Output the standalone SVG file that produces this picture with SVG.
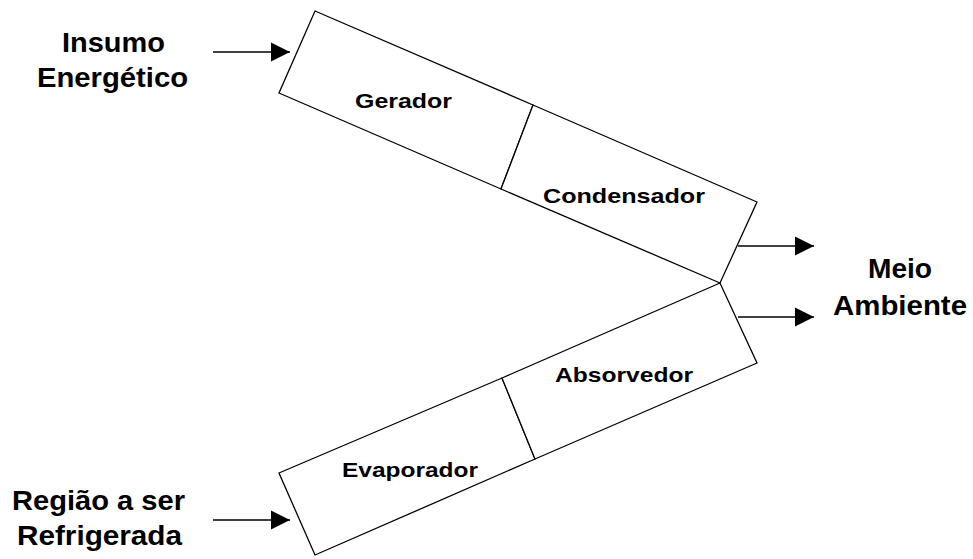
<svg xmlns="http://www.w3.org/2000/svg" width="973" height="559" viewBox="0 0 973 559">
<style>
.box{fill:#fff;stroke:#000;stroke-width:1.3;stroke-linejoin:miter}
.lbl{font-family:"Liberation Sans",Arial,sans-serif;font-weight:bold;font-size:21px;fill:#000;text-anchor:middle}
.out{font-family:"Liberation Sans",Arial,sans-serif;font-weight:bold;font-size:28px;fill:#000;text-anchor:middle}
.arr{stroke:#000;stroke-width:1.5;fill:none;marker-end:url(#ah)}
</style>
<defs>
<marker id="ah" viewBox="0 0 10 10" refX="10" refY="5" markerUnits="userSpaceOnUse" markerWidth="19" markerHeight="20" orient="auto">
<path d="M0,0 L10,5 L0,10 z" fill="#000"/>
</marker>
</defs>
<rect width="973" height="559" fill="#fff"/>
<g id="gerador">
<polygon class="box" points="315,11 533,105 501,189 279,93"/>
<text class="lbl" x="403.5" y="108" textLength="97" lengthAdjust="spacingAndGlyphs">Gerador</text>
</g>
<g id="condensador">
<polygon class="box" points="533,105 757,202 720,283 501,189"/>
<text class="lbl" x="624" y="203" textLength="162" lengthAdjust="spacingAndGlyphs">Condensador</text>
</g>
<g id="evaporador">
<polygon class="box" points="279,473 502,378 535,459 315,555"/>
<text class="lbl" x="410" y="477" textLength="136" lengthAdjust="spacingAndGlyphs">Evaporador</text>
</g>
<g id="absorvedor">
<polygon class="box" points="502,378 720,283 757,363 535,459"/>
<text class="lbl" x="624" y="382" textLength="138" lengthAdjust="spacingAndGlyphs">Absorvedor</text>
</g>
<g id="insumo">
<text class="out" x="113.5" y="52" textLength="103" lengthAdjust="spacingAndGlyphs">Insumo</text>
<text class="out" x="112.5" y="87" textLength="151" lengthAdjust="spacingAndGlyphs">Energético</text>
</g>
<g id="meio-ambiente">
<text class="out" x="900" y="278" textLength="64" lengthAdjust="spacingAndGlyphs">Meio</text>
<text class="out" x="900" y="315" textLength="134" lengthAdjust="spacingAndGlyphs">Ambiente</text>
</g>
<g id="regiao">
<text class="out" x="98.5" y="510" textLength="173" lengthAdjust="spacingAndGlyphs">Região a ser</text>
<text class="out" x="99.5" y="545" textLength="165" lengthAdjust="spacingAndGlyphs">Refrigerada</text>
</g>
<g id="connectors">
<line class="arr" x1="213" y1="52" x2="290" y2="52"/>
<line class="arr" x1="213" y1="520" x2="290" y2="520"/>
<line class="arr" x1="738" y1="246" x2="814" y2="246"/>
<line class="arr" x1="738" y1="317" x2="814" y2="317"/>
</g>
</svg>
